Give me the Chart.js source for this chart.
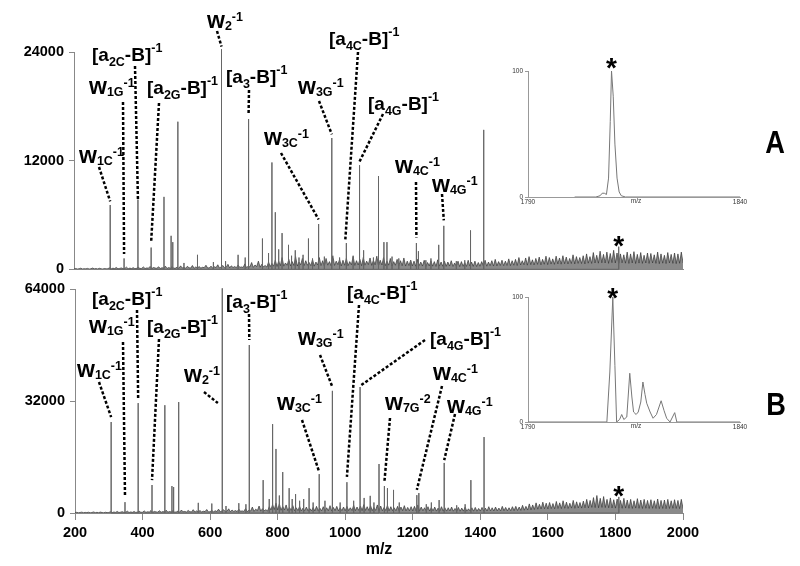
<!DOCTYPE html>
<html>
<head>
<meta charset="utf-8">
<script src="https://cdn.jsdelivr.net/npm/chart.js@4.4.1/dist/chart.umd.min.js"></script>
<style>
body { margin: 0; background: #fff; }
#wrap { position: relative; width: 800px; height: 566px; overflow: hidden; }
canvas { position: absolute; }
</style>
</head>
<body>
<div id="wrap">
  <canvas id="cA" width="800" height="283" style="left:0;top:0"></canvas>
  <canvas id="cB" width="800" height="291" style="left:0;top:275px"></canvas>
  <canvas id="iA" width="290" height="170" style="left:480px;top:50px"></canvas>
  <canvas id="iB" width="290" height="170" style="left:480px;top:280px"></canvas>
</div>
<script>
const FONT = "'Liberation Sans', Arial, sans-serif";

// m/z axis
const mzMin = 200, mzMax = 2000, mzStep = 200;

// panel A : sticks
const peaksAmz  = [307, 348, 389, 428, 466, 487, 492, 507, 525, 565, 612, 636, 648, 685, 706, 716, 757, 775, 785, 795, 805, 815, 834, 843, 854, 865, 877, 893, 905, 923, 940, 962, 985, 1005, 1025, 1044, 1056, 1085, 1100, 1116, 1125, 1140, 1160, 1195, 1212, 1218, 1240, 1255, 1278, 1293, 1330, 1355, 1372, 1411, 1810];
const peaksAint = [7100, 1200, 7700, 2400, 8000, 3700, 3000, 16300, 700, 1600, 800, 24300, 900, 1600, 1300, 16600, 3400, 1800, 11800, 6300, 2200, 4000, 2700, 1500, 2100, 1300, 1600, 3400, 1200, 5000, 1400, 14500, 1300, 2900, 1500, 11500, 2100, 1300, 10300, 3000, 3000, 1400, 1200, 1000, 2900, 2000, 1000, 1200, 2700, 4800, 900, 1000, 4300, 15400, 2500];

// panel B : sticks
const peaksBmz  = [307, 348, 387, 428, 466, 487, 492, 507, 565, 605, 636, 647, 685, 706, 716, 757, 775, 785, 795, 805, 815, 834, 843, 853, 865, 877, 893, 905, 923, 940, 962, 985, 1005, 1025, 1044, 1056, 1074, 1085, 1100, 1116, 1125, 1143, 1160, 1212, 1218, 1240, 1255, 1278, 1293, 1330, 1355, 1372, 1411, 1810];
const peaksBint = [26000, 3100, 31400, 8000, 30800, 7700, 7400, 31700, 2900, 2700, 64200, 2000, 2800, 2500, 48000, 9400, 4000, 25400, 18300, 5000, 11700, 7100, 4000, 5400, 3500, 4000, 7100, 3000, 11100, 3500, 34900, 3000, 8800, 3500, 36000, 4300, 4900, 3000, 14000, 7700, 7100, 6600, 3000, 5100, 5700, 2500, 3000, 3700, 14300, 2200, 2500, 9400, 21700, 4600];

// baseline noise, one value every 5 m/z starting at 200
const noiseStart = 200, noiseStep = 5;
const noiseA = [
  40,90,30,60,120,40,70,50,100,30,60,140,50,80,40,110,60,30,90,50,
  70,160,50,120,80,200,60,100,150,70,90,240,60,130,80,180,70,110,220,90,
  100,260,80,150,120,320,90,200,140,110,280,90,170,130,350,100,190,120,300,110,
  130,240,100,380,150,200,120,330,170,140,420,110,260,150,300,130,220,180,450,140,
  160,350,130,280,190,500,150,260,420,170,230,550,160,380,200,300,180,480,210,260,
  200,600,180,350,260,750,210,480,300,900,230,550,280,420,250,800,300,650,350,1000,
  320,900,400,1300,350,700,450,1100,380,850,420,1400,360,800,500,1200,400,950,450,750,
  400,1100,350,800,480,1300,420,950,380,1200,460,850,400,1500,430,900,520,1100,380,1000,
  450,1200,400,850,500,1400,430,950,480,1100,400,1300,460,900,520,1250,440,1000,500,1450,
  420,1000,480,1300,400,900,460,1200,380,850,450,1100,420,950,400,1250,360,900,420,1000,
  380,900,350,1100,400,800,360,1000,330,750,380,950,350,850,320,1050,360,800,340,900,
  330,800,360,950,320,700,350,900,300,850,340,750,320,1000,360,800,330,900,310,750,
  340,850,380,1000,350,800,400,950,360,1100,380,850,420,1000,400,900,430,1150,410,950,
  450,1100,420,1300,480,950,500,1250,460,1400,520,1050,480,1200,550,1350,500,1100,560,1450,
  520,1300,580,1150,550,1450,600,1250,570,1500,620,1350,590,1200,640,1600,600,1400,660,1300,
  640,1500,600,1700,680,1400,650,1850,700,1550,680,2000,720,1650,700,1900,660,1750,740,2100,
  700,1800,660,1700,720,1600,680,1900,650,1700,700,1950,640,1650,690,1850,660,1550,700,1800,
  650,1750,700,1600,660,1900,620,1700,680,1550,640,1850,700,1650,660,1800,630,1700,670,1900,
  700
];
const noiseB = [
  80,200,60,150,250,90,170,110,220,70,140,300,100,180,90,260,130,70,210,110,
  150,350,110,280,170,450,130,240,380,160,200,520,140,300,180,420,160,260,500,200,
  220,600,180,350,260,700,200,450,320,250,650,210,400,290,800,230,430,270,700,250,
  300,550,230,850,340,450,270,750,380,310,950,250,600,340,700,300,500,400,1000,320,
  360,800,300,650,420,1100,340,600,950,380,520,1200,360,850,450,700,400,1100,480,600,
  450,1300,400,800,580,1700,470,1100,680,2000,520,1250,640,950,560,1800,900,2400,1000,2800,
  900,2600,800,1900,850,2300,700,1600,750,2100,650,1500,700,1900,600,1400,650,1700,600,1300,
  620,1600,580,1900,650,1400,600,1800,560,1500,640,2100,600,1600,680,1900,620,1500,700,1700,
  650,1900,700,1500,720,2200,680,1700,750,2000,700,2400,760,1800,720,2100,680,1600,740,2300,
  700,2000,660,1600,720,2200,640,1800,700,1500,660,1900,620,1700,680,2100,600,1600,640,1800,
  620,1900,660,2300,600,1700,640,1500,580,1800,560,1600,600,1700,540,1400,580,1800,560,1500,
  540,1500,580,1700,520,1300,560,1600,500,1400,540,1700,520,1200,560,1500,530,1600,510,1300,
  540,1600,580,1400,560,1800,600,1500,580,1700,620,1400,600,1900,640,1600,620,1500,660,1800,
  680,1900,720,1700,760,2200,800,1900,850,2600,900,2300,1000,2900,1100,2500,1150,3100,1200,2800,
  1150,3000,1250,2700,1200,3300,1300,2900,1250,3500,1350,3100,1300,2800,1400,3600,1350,3200,1450,3000,
  1400,3400,1500,3900,1450,3600,1600,4400,1550,5000,1500,4200,1600,4700,1550,3900,1500,4300,1450,3800,
  1400,4000,1450,3600,1350,4200,1400,3700,1350,3900,1300,3500,1400,4100,1350,3700,1300,3900,1350,3600,
  1300,3800,1350,3500,1300,4000,1250,3600,1300,3700,1250,3900,1300,3500,1350,3800,1300,3600,1250,3900,
  1300
];

// insets, relative intensity (%)
const insetAmz  = [1801, 1806, 1807, 1807.5, 1808, 1808.5, 1809, 1809.4, 1809.7, 1810.1, 1810.5, 1811, 1811.5, 1812, 1813, 1840];
const insetAint = [0, 0, 1, 3, 3, 2, 15, 60, 100, 80, 42, 15, 4, 1, 0, 0];
const insetBmz  = [1790, 1808.6, 1809.3, 1810, 1810.5, 1810.9, 1811.6, 1812.1, 1812.6, 1813.3, 1814, 1814.5, 1814.9, 1815.5, 1816, 1816.6, 1817.1, 1817.6, 1818, 1818.8, 1819.5, 1820.3, 1821.4, 1822.1, 1822.7, 1823.5, 1824.6, 1825.1, 1840];
const insetBint = [0, 0, 40, 100, 45, 0, 2, 6, 2, 4, 39, 20, 8, 6, 8, 16, 32, 22, 15, 8, 3, 6, 17, 9, 3, 0, 7.5, 0, 0];

// peak labels: text parts, text position (page px), leader start (page px), leader target (m/z, counts)
const labelsA = [
  { t: [['w'], ['1C', 'sub'], ['-1', 'sup']], x: 79, y: 163, from: [99, 167], to: [307, 7500] },
  { t: [['w'], ['1G', 'sub'], ['-1', 'sup']], x: 89, y: 94, from: [123, 102], to: [348, 1700] },
  { t: [['[a'], ['2C', 'sub'], ['-B]'], ['-1', 'sup']], x: 92, y: 61, from: [135, 66], to: [389, 7700] },
  { t: [['[a'], ['2G', 'sub'], ['-B]'], ['-1', 'sup']], x: 147, y: 94, from: [159, 103], to: [428, 3000] },
  { t: [['w'], ['2', 'sub'], ['-1', 'sup']], x: 207, y: 28, from: [217, 31], to: [636, 24600] },
  { t: [['[a'], ['3', 'sub'], ['-B]'], ['-1', 'sup']], x: 226, y: 83, from: [249, 90], to: [716, 17100] },
  { t: [['w'], ['3C', 'sub'], ['-1', 'sup']], x: 264, y: 145, from: [281, 153], to: [923, 5500] },
  { t: [['w'], ['3G', 'sub'], ['-1', 'sup']], x: 298, y: 94, from: [319, 101], to: [962, 14900] },
  { t: [['[a'], ['4C', 'sub'], ['-B]'], ['-1', 'sup']], x: 329, y: 45, from: [358, 52], to: [1002, 3300] },
  { t: [['[a'], ['4G', 'sub'], ['-B]'], ['-1', 'sup']], x: 368, y: 110, from: [383, 114], to: [1044, 11900] },
  { t: [['w'], ['4C', 'sub'], ['-1', 'sup']], x: 395, y: 173, from: [416, 182], to: [1212, 3500] },
  { t: [['w'], ['4G', 'sub'], ['-1', 'sup']], x: 432, y: 192, from: [442, 194], to: [1293, 5400] }
];
const labelsB = [
  { t: [['w'], ['1C', 'sub'], ['-1', 'sup']], x: 77, y: 377, from: [99, 382], to: [307, 27400] },
  { t: [['w'], ['1G', 'sub'], ['-1', 'sup']], x: 89, y: 333, from: [123, 342], to: [348, 4900] },
  { t: [['[a'], ['2C', 'sub'], ['-B]'], ['-1', 'sup']], x: 92, y: 305, from: [137, 310], to: [387, 32300] },
  { t: [['[a'], ['2G', 'sub'], ['-B]'], ['-1', 'sup']], x: 147, y: 333, from: [159, 339], to: [428, 9400] },
  { t: [['w'], ['2', 'sub'], ['-1', 'sup']], x: 184, y: 382, from: [204, 392], to: [623, 31400] },
  { t: [['[a'], ['3', 'sub'], ['-B]'], ['-1', 'sup']], x: 226, y: 308, from: [249, 314], to: [716, 49400] },
  { t: [['w'], ['3C', 'sub'], ['-1', 'sup']], x: 277, y: 410, from: [302, 420], to: [923, 11700] },
  { t: [['w'], ['3G', 'sub'], ['-1', 'sup']], x: 298, y: 345, from: [320, 355], to: [962, 36000] },
  { t: [['[a'], ['4C', 'sub'], ['-B]'], ['-1', 'sup']], x: 347, y: 299, from: [359, 305], to: [1005, 10300] },
  { t: [['[a'], ['4G', 'sub'], ['-B]'], ['-1', 'sup']], x: 430, y: 345, from: [425, 340], to: [1044, 36300] },
  { t: [['w'], ['7G', 'sub'], ['-2', 'sup']], x: 385, y: 410, from: [390, 418], to: [1116, 8900] },
  { t: [['w'], ['4C', 'sub'], ['-1', 'sup']], x: 433, y: 380, from: [442, 386], to: [1212, 6600] },
  { t: [['w'], ['4G', 'sub'], ['-1', 'sup']], x: 447, y: 413, from: [455, 414], to: [1293, 15100] }
];

function sticks(mz, inten) {
  let pts = [];
  mz.forEach((m, i) => {
    pts.push({ x: m, y: 0 }, { x: m, y: inten[i] }, { x: m, y: 0 });
  });
  return pts;
}

function noisePts(noise) {
  return noise.map((v, i) => ({ x: noiseStart + i * noiseStep, y: v }));
}

function drawLabel(ctx, parts, x, y) {
  let isW = parts[0][0] === 'w';
  ctx.fillStyle = '#000';
  ctx.textAlign = 'left';
  ctx.textBaseline = 'alphabetic';
  parts.forEach(p => {
    let txt = p[0], kind = p[1];
    let size = kind ? 12.5 : (isW ? 23 : 19);
    let dy = 0;
    if (kind === 'sub') dy = isW ? 2 : 5;
    if (kind === 'sup') dy = isW ? -7 : -9;
    ctx.font = 'bold ' + size + 'px ' + FONT;
    ctx.fillText(txt, x, y + dy);
    x += ctx.measureText(txt).width;
  });
}

function annotate(labels, ox, oy, letter, star) {
  return {
    id: 'annot',
    afterDatasetsDraw(chart) {
      const ctx = chart.ctx, sx = chart.scales.x, sy = chart.scales.y;
      ctx.save();
      ctx.translate(-ox, -oy);
      // leaders
      ctx.strokeStyle = '#000';
      ctx.lineWidth = 2.5;
      ctx.setLineDash([3, 2]);
      labels.forEach(l => {
        ctx.beginPath();
        ctx.moveTo(l.from[0], l.from[1]);
        ctx.lineTo(sx.getPixelForValue(l.to[0]) + ox, sy.getPixelForValue(l.to[1]) + oy);
        ctx.stroke();
      });
      ctx.setLineDash([]);
      labels.forEach(l => drawLabel(ctx, l.t, l.x, l.y));
      // big panel letter
      ctx.save();
      ctx.translate(letter.x, letter.y);
      ctx.scale(0.85, 1);
      ctx.font = 'bold 32px ' + FONT;
      ctx.textAlign = 'center';
      ctx.fillStyle = '#000';
      ctx.fillText(letter.t, 0, 0);
      ctx.restore();
      ctx.restore();
      // asterisk
      ctx.save();
      ctx.font = 'bold 28px ' + FONT;
      ctx.textAlign = 'center';
      ctx.fillStyle = '#000';
      ctx.fillText('*', sx.getPixelForValue(star[0]), sy.getPixelForValue(star[1]) + 15);
      ctx.restore();
    }
  };
}

function mainChart(id, pm, pi, noise, yMax, yStep, cfg) {
  const tickFont = { family: FONT, size: 14.5, weight: 'bold' };
  return new Chart(document.getElementById(id), {
    type: 'line',
    data: {
      datasets: [
        { data: sticks(pm, pi), borderColor: '#666', borderWidth: 1, pointRadius: 0, tension: 0, fill: false, clip: false },
        { data: noisePts(noise), borderColor: '#333', borderWidth: 0.7, backgroundColor: '#8a8a8a', pointRadius: 0, tension: 0, fill: 'origin' }
      ]
    },
    options: {
      responsive: false,
      animation: false,
      layout: { padding: cfg.padding },
      plugins: { legend: { display: false }, tooltip: { enabled: false } },
      scales: {
        x: {
          type: 'linear', min: mzMin, max: mzMax,
          afterFit: s => { s.height = cfg.xHeight; },
          ticks: { display: cfg.xTicks, stepSize: mzStep, color: '#000', font: tickFont, padding: 4, maxRotation: 0, callback: v => String(v) },
          grid: { display: cfg.xTicks, drawOnChartArea: false, tickLength: 7, color: '#888' },
          border: { color: '#888' },
          title: { display: cfg.xTicks, text: 'm/z', color: '#000', font: { family: FONT, size: 16, weight: 'bold' }, padding: { top: 0, bottom: 7 } }
        },
        y: {
          min: 0, max: yMax,
          afterFit: s => { s.width = cfg.yWidth; },
          ticks: { stepSize: yStep, color: '#000', font: tickFont, padding: 5, callback: v => String(v) },
          grid: { drawOnChartArea: false, tickLength: 5, color: '#888' },
          border: { color: '#888' }
        }
      }
    },
    plugins: [annotate(cfg.labels, cfg.ox, cfg.oy, cfg.letter, cfg.star)]
  });
}

mainChart('cA', peaksAmz, peaksAint, noiseA, 24000, 12000, {
  padding: { left: 0, right: 117, top: 52, bottom: 10 },
  xHeight: 0, xTicks: false, yWidth: 74, ox: 0, oy: 0,
  labels: labelsA, letter: { t: 'A', x: 775, y: 153 }, star: [1810, 3240]
});

mainChart('cB', peaksBmz, peaksBint, noiseB, 64000, 32000, {
  padding: { left: 0, right: 117, top: 14, bottom: 0 },
  xHeight: 53, xTicks: true, yWidth: 75, ox: 0, oy: 275,
  labels: labelsB, letter: { t: 'B', x: 776, y: 415 }, star: [1810, 6570]
});

const insetText = {
  id: 'insetText',
  afterDraw(chart) {
    const ctx = chart.ctx, sx = chart.scales.x, sy = chart.scales.y;
    ctx.save();
    ctx.font = '6.5px ' + FONT;
    ctx.fillStyle = '#333';
    ctx.textAlign = 'center';
    ctx.textBaseline = 'top';
    ctx.fillText('m/z', (sx.left + sx.right) / 2 + 2, sx.top + 1);
    ctx.font = 'bold 28px ' + FONT;
    ctx.fillStyle = '#000';
    ctx.textBaseline = 'alphabetic';
    const st = chart.options.starAt;
    ctx.fillText('*', sx.getPixelForValue(st[0]), sy.getPixelForValue(st[1]) + 15);
    ctx.restore();
  }
};

function insetChart(id, mz, inten, padTop, axisH, starAt) {
  const f = { family: FONT, size: 6.5 };
  return new Chart(document.getElementById(id), {
    type: 'line',
    data: { datasets: [{ data: mz.map((m, i) => ({ x: m, y: inten[i] })), borderColor: '#777', borderWidth: 1, pointRadius: 0, tension: 0, fill: false }] },
    options: {
      responsive: false,
      animation: false,
      starAt: starAt,
      layout: { padding: { left: 0, right: 30, top: padTop, bottom: 0 } },
      plugins: { legend: { display: false }, tooltip: { enabled: false } },
      scales: {
        x: {
          type: 'linear', min: 1790, max: 1840,
          afterFit: s => { s.height = axisH; },
          ticks: { stepSize: 50, color: '#333', font: f, padding: 1, maxRotation: 0, callback: v => String(v) },
          grid: { display: false, drawTicks: false },
          border: { color: '#999' }
        },
        y: {
          min: 0, max: 100,
          afterFit: s => { s.width = 48; },
          ticks: { stepSize: 100, color: '#333', font: f, padding: 2, callback: v => String(v) },
          grid: { drawOnChartArea: false, tickLength: 3, color: '#999' },
          border: { color: '#999' }
        }
      }
    },
    plugins: [insetText]
  });
}

insetChart('iA', insetAmz, insetAint, 21, 23, [1809.7, 107]);
insetChart('iB', insetBmz, insetBint, 17, 28, [1810, 104]);
</script>
</body>
</html>
